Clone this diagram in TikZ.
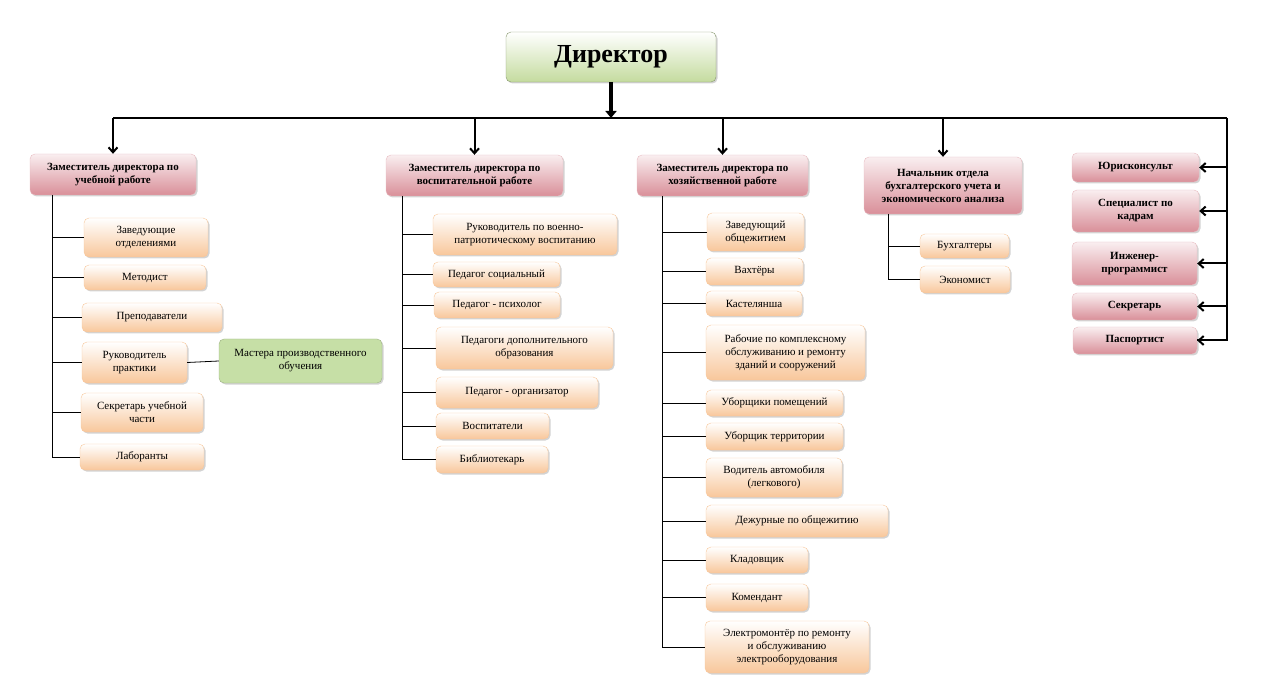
\documentclass[tikz,border=0pt]{standalone}
\usepackage{fontspec}
\setmainfont{Liberation Serif}
\usetikzlibrary{shadows,arrows.meta}
\definecolor{pinkd}{HTML}{D98F99}
\definecolor{orgd}{HTML}{F8C79B}
\definecolor{grn}{HTML}{C6DFA6}
\definecolor{dirg}{HTML}{C4DB9E}
\tikzset{
 base/.style={rounded corners=5pt, align=center, inner sep=1pt, font=\fontsize{11}{13}\selectfont, drop shadow={shadow xshift=1.5pt,shadow yshift=-1.5pt,opacity=0.35}},
 pk/.style={base, draw=pinkd!60, top color=pinkd!15, bottom color=pinkd, font=\fontsize{11}{13}\selectfont\bfseries},
 org/.style={base, draw=orgd, top color=white, bottom color=orgd},
 gr/.style={base, draw=grn!80!black, fill=grn},
 dir/.style={base, draw=dirg!70!black, top color=white, bottom color=dirg, font=\fontsize{26}{30}\selectfont\bfseries},
 ln/.style={line width=0.8pt},
 bus/.style={line width=2pt},
 arr/.style={line width=2pt, -{Straight Barb[length=5pt,width=9pt]}}
}
\newcommand\bx[7]{\node[#6, minimum width={(#4-#2)*1pt}, minimum height={(#5-#3)*1pt}] (#1) at ({(#2+#4)/2},{(#3+#5)/2}) {#7};}
\begin{document}
\begin{tikzpicture}[x=1pt,y=-1pt]
\useasboundingbox (0,0) rectangle (1263,700);
\bx{dirn}{506}{32}{716}{82}{dir}{Директор}
\bx{A}{30}{154}{196}{195}{pk}{Заместитель директора по\\учебной работе}
\bx{B}{386}{155}{563}{196}{pk}{Заместитель директора по\\воспитательной работе}
\bx{C}{637}{155}{808}{196}{pk}{Заместитель директора по\\хозяйственной работе}
\bx{D}{864}{157}{1022}{214}{pk}{Начальник отдела\\бухгалтерского учета и\\экономического анализа}
\bx{r1}{1072}{153}{1199}{182}{pk}{Юрисконсульт}
\bx{r2}{1072}{190}{1199}{232}{pk}{Специалист по\\кадрам}
\bx{r3}{1072}{242}{1197}{285}{pk}{Инженер-\\программист}
\bx{r4}{1072}{293}{1197}{320}{pk}{Секретарь}
\bx{r5}{1073}{327}{1197}{354}{pk}{Паспортист}
% A column
\bx{a1}{84}{218}{208}{257}{org}{Заведующие\\отделениями}
\bx{a2}{84}{265}{206}{290}{org}{Методист}
\bx{a3}{82}{303}{222}{332}{org}{Преподаватели}
\bx{a4}{82}{342}{187}{383}{org}{Руководитель\\практики}
\bx{am}{219}{339}{382}{383}{gr}{Мастера производственного\\обучения}
\bx{a5}{81}{393}{203}{432}{org}{Секретарь учебной\\части}
\bx{a6}{80}{444}{204}{470}{org}{Лаборанты}
% B column
\bx{b1}{433}{214}{617}{255}{org}{Руководитель по военно-\\патриотическому воспитанию}
\bx{b2}{433}{262}{560}{287}{org}{Педагог социальный}
\bx{b3}{434}{292}{560}{318}{org}{Педагог - психолог}
\bx{b4}{436}{327}{613}{369}{org}{Педагоги дополнительного\\образования}
\bx{b5}{436}{377}{598}{408}{org}{Педагог - организатор}
\bx{b6}{436}{413}{549}{439}{org}{Воспитатели}
\bx{b7}{436}{446}{548}{473}{org}{Библиотекарь}
% C column
\bx{c1}{707}{213}{804}{251}{org}{Заведующий\\общежитием}
\bx{c2}{706}{258}{803}{285}{org}{Вахтёры}
\bx{c3}{706}{291}{802}{316}{org}{Кастелянша}
\bx{c4}{706}{325}{865}{380}{org}{Рабочие по комплексному\\обслуживанию и ремонту\\зданий и сооружений}
\bx{c5}{706}{390}{843}{416}{org}{Уборщики помещений}
\bx{c6}{706}{423}{843}{450}{org}{Уборщик территории}
\bx{c7}{706}{458}{842}{497}{org}{Водитель автомобиля\\(легкового)}
\bx{c8}{706}{505}{888}{537}{org}{Дежурные по общежитию}
\bx{c9}{706}{547}{808}{573}{org}{Кладовщик}
\bx{c10}{706}{584}{808}{611}{org}{Комендант}
\bx{c11}{705}{621}{869}{673}{org}{Электромонтёр по ремонту\\и обслуживанию\\электрооборудования}
% D column
\bx{d1}{920}{234}{1009}{258}{org}{Бухгалтеры}
\bx{d2}{920}{266}{1010}{293}{org}{Экономист}
% top bus
\coordinate (bl) at (113,118);
\coordinate (br) at (1227,118);
\coordinate (dtop) at (611,118);
\draw[line width=3.5pt,-{Triangle[length=7pt,width=11pt]}] (dirn.south) -- (dtop);
\draw[bus] (bl) -- (br);
\foreach \n in {A,B,C,D} \draw[arr] (\n.north |- bl) -- (\n.north);
\draw[bus] (br) |- (r5.east);
\foreach \n in {r1,r2,r3,r4,r5} \draw[arr] (br |- \n.east) -- (\n.east);
% trees
\coordinate (a0) at (52,195);
\draw[ln] (a0) |- (a6.west);
\foreach \n in {a1,a2,a3,a4,a5} \draw[ln] (a0 |- \n.west) -- (\n.west);
\draw[ln] (a4.east) -- (am.west);
\coordinate (b0) at (402,196);
\draw[ln] (b0) |- (b7.west);
\foreach \n in {b1,b2,b3,b4,b5,b6} \draw[ln] (b0 |- \n.west) -- (\n.west);
\coordinate (c0) at (662,196);
\draw[ln] (c0) |- (c11.west);
\foreach \n in {c1,c2,c3,c4,c5,c6,c7,c8,c9,c10} \draw[ln] (c0 |- \n.west) -- (\n.west);
\coordinate (d0) at (888,214);
\draw[ln] (d0) |- (d2.west);
\draw[ln] (d0 |- d1.west) -- (d1.west);
\end{tikzpicture}
\end{document}
